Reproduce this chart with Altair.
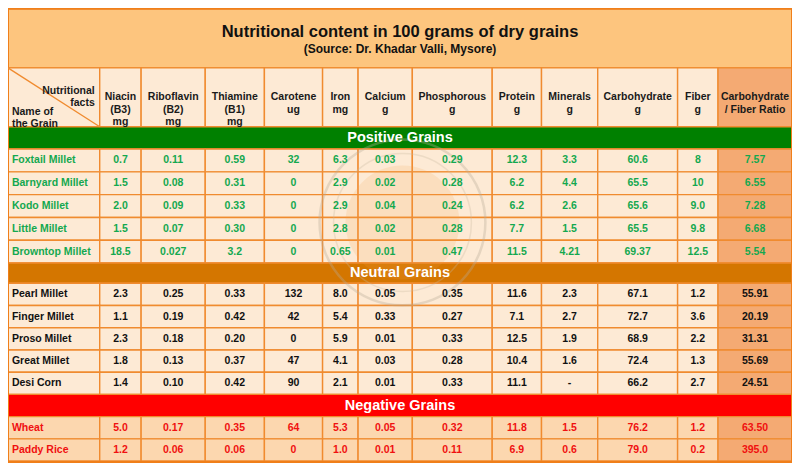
import altair as alt
import pandas as pd

# ---------------- data ----------------
title = "Nutritional content in 100 grams of dry grains"
subtitle = "(Source: Dr. Khadar Valli, Mysore)"

corner_top = "Nutritional\nfacts"
corner_bottom = "Name of\nthe Grain"

headers = [
    "Niacin\n(B3)\nmg", "Riboflavin\n(B2)\nmg", "Thiamine\n(B1)\nmg",
    "Carotene\nug", "Iron\nmg", "Calcium\ng", "Phosphorous\ng", "Protein\ng",
    "Minerals\ng", "Carbohydrate\ng", "Fiber\ng", "Carbohydrate\n/ Fiber Ratio",
]

groups = ["Positive Grains", "Neutral Grains", "Negative Grains"]

positive_names = ["Foxtail Millet", "Barnyard Millet", "Kodo Millet", "Little Millet", "Browntop Millet"]
positive_values = [
    ["0.7", "0.11", "0.59", "32", "6.3", "0.03", "0.29", "12.3", "3.3", "60.6", "8", "7.57"],
    ["1.5", "0.08", "0.31", "0", "2.9", "0.02", "0.28", "6.2", "4.4", "65.5", "10", "6.55"],
    ["2.0", "0.09", "0.33", "0", "2.9", "0.04", "0.24", "6.2", "2.6", "65.6", "9.0", "7.28"],
    ["1.5", "0.07", "0.30", "0", "2.8", "0.02", "0.28", "7.7", "1.5", "65.5", "9.8", "6.68"],
    ["18.5", "0.027", "3.2", "0", "0.65", "0.01", "0.47", "11.5", "4.21", "69.37", "12.5", "5.54"],
]

neutral_names = ["Pearl Millet", "Finger Millet", "Proso Millet", "Great Millet", "Desi Corn"]
neutral_values = [
    ["2.3", "0.25", "0.33", "132", "8.0", "0.05", "0.35", "11.6", "2.3", "67.1", "1.2", "55.91"],
    ["1.1", "0.19", "0.42", "42", "5.4", "0.33", "0.27", "7.1", "2.7", "72.7", "3.6", "20.19"],
    ["2.3", "0.18", "0.20", "0", "5.9", "0.01", "0.33", "12.5", "1.9", "68.9", "2.2", "31.31"],
    ["1.8", "0.13", "0.37", "47", "4.1", "0.03", "0.28", "10.4", "1.6", "72.4", "1.3", "55.69"],
    ["1.4", "0.10", "0.42", "90", "2.1", "0.01", "0.33", "11.1", "-", "66.2", "2.7", "24.51"],
]

negative_names = ["Wheat", "Paddy Rice"]
negative_values = [
    ["5.0", "0.17", "0.35", "64", "5.3", "0.05", "0.32", "11.8", "1.5", "76.2", "1.2", "63.50"],
    ["1.2", "0.06", "0.06", "0", "1.0", "0.01", "0.11", "6.9", "0.6", "79.0", "0.2", "395.0"],
]

# ---------------- layout & style ----------------
col_edges = [3, 96, 138, 203, 263, 322, 358, 413, 494, 544, 601, 682, 723, 798]
TITLE_TOP, TITLE_BOTTOM, HEADER_BOTTOM = 1, 62, 123
band_heights = [23, 21, 23]
row_heights = [23.6, 23, 23]

FONT = "Liberation Sans"
LINE = "#F08B2F"
TITLE_BG = "#FDC57E"
CELL_BG = "#FDEAD5"
NEG_BG = "#FCD7AF"
RATIO_BG = "#F4AA73"
band_bg = ["#008000", "#D47600", "#FF0000"]
text_col = ["#14A84F", "#111111", "#F01010"]

all_names = [positive_names, neutral_names, negative_names]
all_values = [positive_values, neutral_values, negative_values]

rects, texts, names, bands = [], [], [], []

# title band
rects.append(dict(x=col_edges[0], x2=col_edges[-1], y=TITLE_TOP, y2=TITLE_BOTTOM, fill=TITLE_BG))
# header cells
rects.append(dict(x=col_edges[0], x2=col_edges[1], y=TITLE_BOTTOM, y2=HEADER_BOTTOM, fill=CELL_BG))
header_rows = []
for i, h in enumerate(headers):
    fill = RATIO_BG if i == len(headers) - 1 else CELL_BG
    rects.append(dict(x=col_edges[i + 1], x2=col_edges[i + 2], y=TITLE_BOTTOM, y2=HEADER_BOTTOM, fill=fill))
    header_rows.append(dict(x=(col_edges[i + 1] + col_edges[i + 2]) / 2,
                            y=(TITLE_BOTTOM + HEADER_BOTTOM) / 2, text=h))

y = HEADER_BOTTOM
for g in range(3):
    y0 = y
    y += band_heights[g]
    rects.append(dict(x=col_edges[0], x2=col_edges[-1], y=y0, y2=y, fill=band_bg[g]))
    bands.append(dict(x=(col_edges[0] + col_edges[-1]) / 2, y=(y0 + y) / 2, text=groups[g]))
    for r, nm in enumerate(all_names[g]):
        r0 = y
        y += row_heights[g]
        cy = (r0 + y) / 2
        base = NEG_BG if g == 2 else CELL_BG
        rects.append(dict(x=col_edges[0], x2=col_edges[1], y=r0, y2=y, fill=base))
        names.append(dict(x=col_edges[0] + 4, y=cy, text=nm, color=text_col[g]))
        for c, v in enumerate(all_values[g][r]):
            fill = RATIO_BG if c == len(headers) - 1 else base
            rects.append(dict(x=col_edges[c + 1], x2=col_edges[c + 2], y=r0, y2=y, fill=fill))
            texts.append(dict(x=(col_edges[c + 1] + col_edges[c + 2]) / 2, y=cy, text=v, color=text_col[g]))
TABLE_BOTTOM = y

rect_df = pd.DataFrame(rects)
xs = alt.Scale(domain=[col_edges[0], col_edges[-1]], nice=False, zero=False)
ys = alt.Scale(domain=[0, 471], nice=False, zero=False, reverse=True)


def X(f="x"):
    return alt.X(f"{f}:Q", scale=xs, axis=None)


def Y(f="y"):
    return alt.Y(f"{f}:Q", scale=ys, axis=None)


cells = alt.Chart(rect_df).mark_rect(stroke=LINE, strokeWidth=1.4).encode(
    x=X(), x2="x2", y=Y(), y2="y2", fill=alt.Fill("fill:N", scale=None)
)

frame = alt.Chart(pd.DataFrame([dict(x=col_edges[0], x2=col_edges[-1], y=0.6, y2=TABLE_BOTTOM + 1)])).mark_rect(
    fillOpacity=0, stroke="#F07F1A", strokeWidth=2
).encode(x=X(), x2="x2", y=Y(), y2="y2")

diag = alt.Chart(pd.DataFrame([dict(x=col_edges[0], y=TITLE_BOTTOM, x2=col_edges[1], y2=HEADER_BOTTOM)])).mark_rule(
    color=LINE, strokeWidth=1.3
).encode(x=X(), y=Y(), x2="x2", y2="y2")

# faint watermark seal
wm_df = pd.DataFrame([dict(x=403, y=222)])
wm_fill = alt.Chart(wm_df).mark_point(shape="circle", filled=True, size=13000, color="#F3A24C", opacity=0.16).encode(x=X(), y=Y())
wm_ring = alt.Chart(wm_df).mark_point(shape="circle", filled=False, size=27500, color="#B9AC98", strokeWidth=2.5, opacity=0.35).encode(x=X(), y=Y())
wm_ring2 = alt.Chart(wm_df).mark_point(shape="circle", filled=False, size=19000, color="#C9B9A0", strokeWidth=1.5, opacity=0.3).encode(x=X(), y=Y())

title_cx = (col_edges[0] + col_edges[-1]) / 2
title_txt = alt.Chart(pd.DataFrame([dict(x=title_cx, y=25, text=title)])).mark_text(
    font=FONT, fontWeight="bold", fontSize=16.5, color="#111111", baseline="middle", align="center"
).encode(x=X(), y=Y(), text="text:N")
sub_txt = alt.Chart(pd.DataFrame([dict(x=title_cx, y=42.5, text=subtitle)])).mark_text(
    font=FONT, fontWeight="bold", fontSize=12, color="#111111", baseline="middle", align="center"
).encode(x=X(), y=Y(), text="text:N")

head_txt = alt.Chart(pd.DataFrame(header_rows)).mark_text(
    font=FONT, fontWeight="bold", fontSize=10.5, color="#1a1a1a", baseline="middle", align="center",
    lineBreak="\n", lineHeight=12.5
).encode(x=X(), y=Y(), text="text:N")

corner1 = alt.Chart(pd.DataFrame([dict(x=col_edges[1] - 5, y=86, text=corner_top)])).mark_text(
    font=FONT, fontWeight="bold", fontSize=10.5, color="#1a1a1a", baseline="middle", align="right",
    lineBreak="\n", lineHeight=12
).encode(x=X(), y=Y(), text="text:N")
corner2 = alt.Chart(pd.DataFrame([dict(x=col_edges[0] + 4, y=108, text=corner_bottom)])).mark_text(
    font=FONT, fontWeight="bold", fontSize=10.5, color="#1a1a1a", baseline="middle", align="left",
    lineBreak="\n", lineHeight=11.5
).encode(x=X(), y=Y(), text="text:N")

band_txt = alt.Chart(pd.DataFrame(bands)).mark_text(
    font=FONT, fontWeight="bold", fontSize=14.5, color="#FFFFFF", baseline="middle", align="center"
).encode(x=X(), y=Y(), text="text:N")

name_txt = alt.Chart(pd.DataFrame(names)).mark_text(
    font=FONT, fontWeight="bold", fontSize=10.5, baseline="middle", align="left"
).encode(x=X(), y=Y(), text="text:N", color=alt.Color("color:N", scale=None))

val_txt = alt.Chart(pd.DataFrame(texts)).mark_text(
    font=FONT, fontWeight="bold", fontSize=10.5, baseline="middle", align="center"
).encode(x=X(), y=Y(), text="text:N", color=alt.Color("color:N", scale=None))

chart = alt.layer(
    cells, wm_fill, wm_ring2, wm_ring, frame, diag,
    title_txt, sub_txt, head_txt, corner1, corner2, band_txt, name_txt, val_txt
).properties(
    width=784, height=455, padding=0, autosize=alt.AutoSizeParams(type="none")
).configure_view(stroke=None)

chart.save("out.html", embed_options={"renderer": "svg", "actions": False})
